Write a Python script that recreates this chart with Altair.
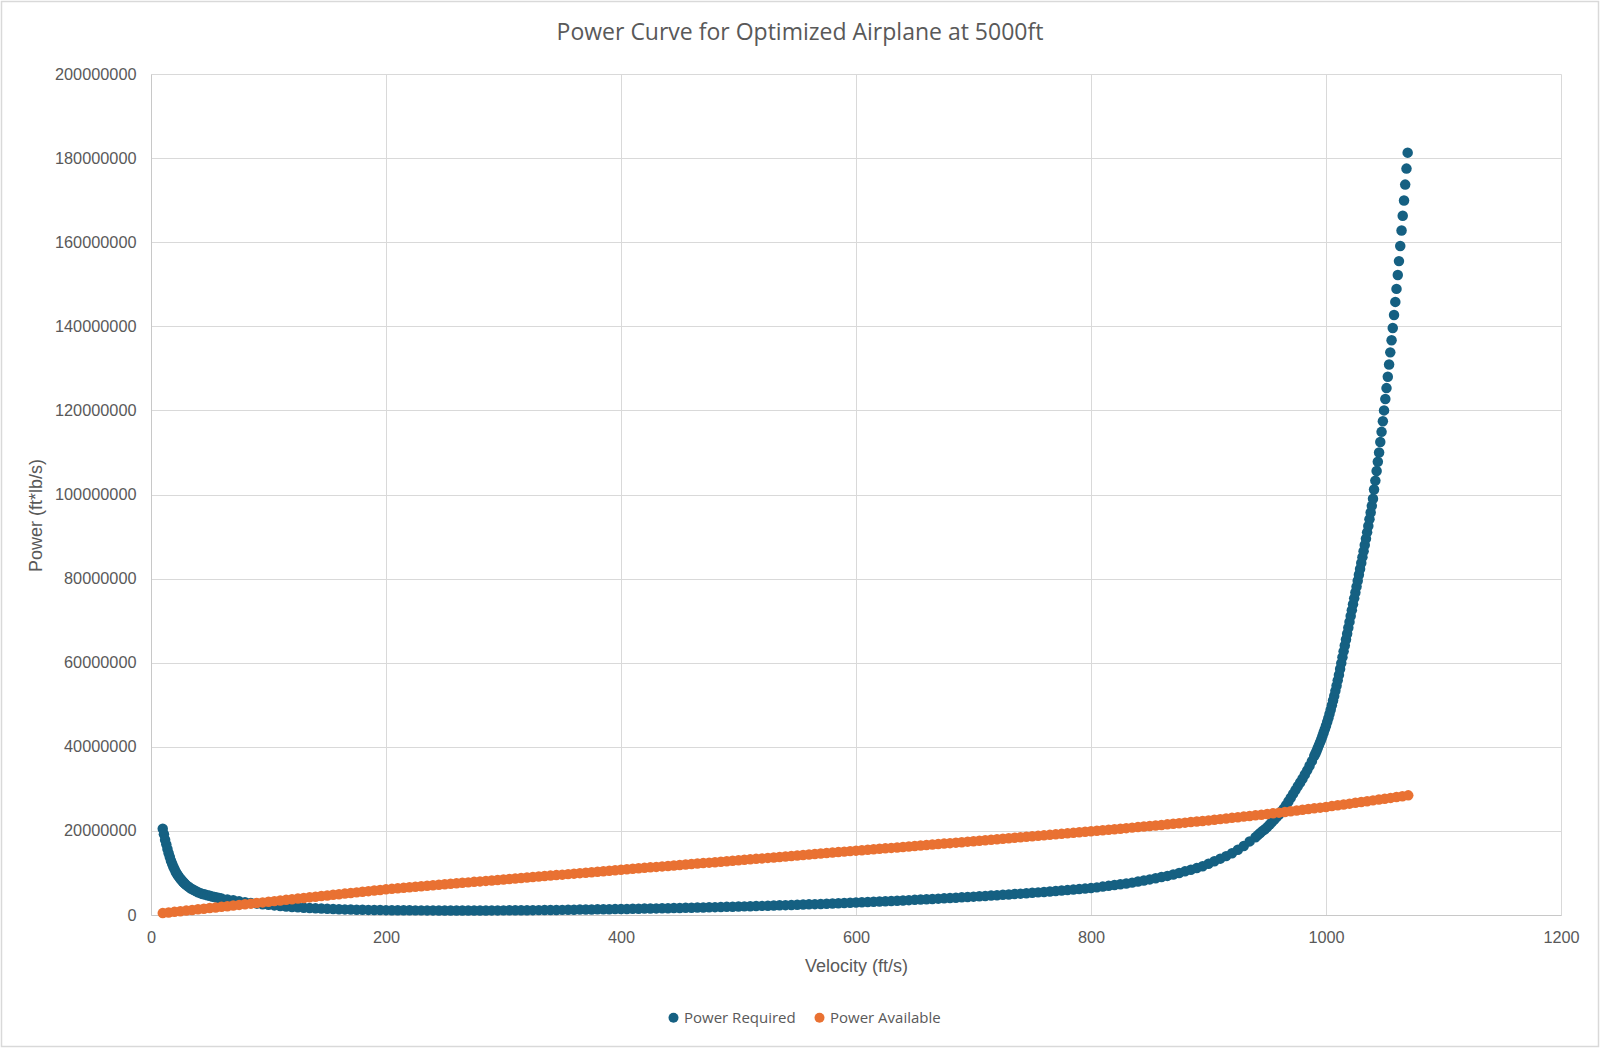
import altair as alt
import pandas as pd

TITLE = "Power Curve for Optimized Airplane at 5000ft"
X_TITLE = "Velocity (ft/s)"
Y_TITLE = "Power (ft*lb/s)"
SERIES = ["Power Required", "Power Available"]
COLORS = ["#156082", "#E97132"]
X_TICKS = [0, 200, 400, 600, 800, 1000, 1200]
Y_TICKS = [0, 20000000, 40000000, 60000000, 80000000, 100000000,
           120000000, 140000000, 160000000, 180000000, 200000000]

# (velocity ft/s, power in millions of ft*lb/s)
power_required = [
    (10, 20.5), (11, 19.2), (12, 17.9), (13, 16.8), (14, 15.7), (15, 14.7), (16, 13.8), (17, 12.9),
    (18, 12.2), (19, 11.5), (20, 10.9), (21, 10.3), (22, 9.8), (23, 9.4), (24, 9.0), (25, 8.6),
    (26, 8.3), (27, 7.95), (28, 7.65), (29, 7.4), (30, 7.1),
    (32, 6.7), (34, 6.3), (36, 6.0), (38, 5.7), (40, 5.4), (42, 5.2), (44, 5.0), (46, 4.85),
    (48, 4.7), (50, 4.55), (52, 4.4), (54, 4.28), (56, 4.16), (58, 4.05), (60, 3.95),
    (65, 3.7), (70, 3.5), (75, 3.25), (80, 3.05), (85, 2.85), (90, 2.7), (95, 2.55), (100, 2.42),
    (105, 2.28), (110, 2.15), (115, 2.03), (120, 1.92), (125, 1.82), (130, 1.73), (135, 1.65),
    (140, 1.58), (145, 1.52), (150, 1.46), (155, 1.41), (160, 1.37), (165, 1.33), (170, 1.29),
    (175, 1.26), (180, 1.23), (185, 1.21), (190, 1.19), (195, 1.17), (200, 1.15),
    (205, 1.14), (210, 1.13), (215, 1.12), (220, 1.11), (225, 1.10), (230, 1.10), (235, 1.09),
    (240, 1.09), (245, 1.08), (250, 1.08), (255, 1.08), (260, 1.08), (265, 1.08), (270, 1.08),
    (275, 1.08), (280, 1.08), (285, 1.08), (290, 1.09), (295, 1.09), (300, 1.10),
    (305, 1.11), (310, 1.12), (315, 1.13), (320, 1.14), (325, 1.15), (330, 1.16), (335, 1.17),
    (340, 1.19), (345, 1.20), (350, 1.22), (355, 1.24), (360, 1.26), (365, 1.28), (370, 1.30),
    (375, 1.32), (380, 1.34), (385, 1.36), (390, 1.38), (395, 1.40), (400, 1.42),
    (405, 1.44), (410, 1.47), (415, 1.49), (420, 1.52), (425, 1.54), (430, 1.57), (435, 1.59),
    (440, 1.62), (445, 1.65), (450, 1.68), (455, 1.71), (460, 1.74), (465, 1.77), (470, 1.80),
    (475, 1.83), (480, 1.87), (485, 1.90), (490, 1.94), (495, 1.97), (500, 2.01),
    (505, 2.05), (510, 2.09), (515, 2.13), (520, 2.17), (525, 2.21), (530, 2.25), (535, 2.30),
    (540, 2.34), (545, 2.39), (550, 2.43), (555, 2.48), (560, 2.53), (565, 2.58), (570, 2.63),
    (575, 2.68), (580, 2.74), (585, 2.79), (590, 2.85), (595, 2.90), (600, 2.96),
    (605, 3.02), (610, 3.08), (615, 3.14), (620, 3.20), (625, 3.26), (630, 3.33), (635, 3.39),
    (640, 3.46), (645, 3.53), (650, 3.60), (655, 3.67), (660, 3.74), (665, 3.81), (670, 3.89),
    (675, 3.96), (680, 4.04), (685, 4.12), (690, 4.20), (695, 4.28), (700, 4.36),
    (705, 4.45), (710, 4.53), (715, 4.62), (720, 4.71), (725, 4.80), (730, 4.89), (735, 4.99),
    (740, 5.08), (745, 5.18), (750, 5.28), (755, 5.38), (760, 5.48), (765, 5.59), (770, 5.70),
    (775, 5.81), (780, 5.92), (785, 6.04), (790, 6.16), (795, 6.28), (800, 6.40),
    (805, 6.57), (810, 6.75), (815, 6.93), (820, 7.12), (825, 7.30), (830, 7.48), (835, 7.70),
    (840, 7.95), (845, 8.20), (850, 8.47), (855, 8.74), (860, 9.02), (865, 9.30), (870, 9.65),
    (875, 10.0), (880, 10.38), (885, 10.76), (890, 11.15), (895, 11.6), (900, 12.2),
    (905, 12.8), (910, 13.4), (915, 14.0), (920, 14.7), (925, 15.5), (930, 16.4), (935, 17.5),
    (940, 18.5),
    (942, 19.0), (944, 19.5), (946, 20.0), (948, 20.4), (950, 20.9), (952, 21.5), (954, 22.1),
    (956, 22.7), (958, 23.3), (960, 23.9), (962, 24.6), (964, 25.3), (966, 26.1), (968, 27.0),
    (970, 27.9), (972, 28.8), (974, 29.7), (976, 30.6), (978, 31.5), (980, 32.4), (982, 33.4),
    (984, 34.4), (986, 35.5), (988, 36.6),
    (990, 37.8), (991, 38.4), (992, 39.0), (993, 39.7), (994, 40.4), (995, 41.1), (996, 41.8),
    (997, 42.6), (998, 43.4), (999, 44.2), (1000, 45.0), (1001, 45.9), (1002, 46.8), (1003, 47.8),
    (1004, 48.8), (1005, 49.9), (1006, 51.0), (1007, 52.1), (1008, 53.3), (1009, 54.5),
    (1010, 55.8), (1011, 57.1), (1012, 58.5), (1013, 59.9), (1014, 61.3), (1015, 62.7),
    (1016, 64.1), (1017, 65.5), (1018, 66.9), (1019, 68.3), (1020, 69.7), (1021, 71.1),
    (1022, 72.5), (1023, 73.9), (1024, 75.3), (1025, 76.7), (1026, 78.1), (1027, 79.5),
    (1028, 80.9), (1029, 82.3), (1030, 83.7), (1031, 85.1), (1032, 86.5), (1033, 88.0),
    (1034, 89.5), (1035, 91.0), (1036, 92.5), (1037, 94.1), (1038, 95.7), (1039, 97.3),
    (1040, 99.0),
    (1040.9, 101.2), (1042.0, 103.3), (1043.1, 105.6), (1044.1, 107.8), (1045.2, 110.0),
    (1046.2, 112.5), (1047.3, 114.9), (1048.4, 117.4), (1049.4, 120.0), (1050.5, 122.7),
    (1051.5, 125.3), (1052.6, 128.0), (1053.7, 130.9), (1054.7, 133.8), (1055.8, 136.7),
    (1056.8, 139.6), (1057.9, 142.7), (1059.0, 145.8), (1060.0, 148.9), (1061.1, 152.2),
    (1062.1, 155.5), (1063.2, 159.1), (1064.3, 162.8), (1065.3, 166.3), (1066.4, 169.9),
    (1067.4, 173.7), (1068.5, 177.5), (1069.5, 181.3),
]

power_available = [
    (10, 0.45), (15, 0.60), (20, 0.75), (25, 0.90), (30, 1.05), (35, 1.20), (40, 1.35), (45, 1.50),
    (50, 1.65), (55, 1.80), (60, 1.95), (65, 2.10), (70, 2.25), (75, 2.40), (80, 2.55), (85, 2.70),
    (90, 2.85), (95, 3.00), (100, 3.15), (105, 3.30), (110, 3.45), (115, 3.60), (120, 3.75),
    (125, 3.90), (130, 4.05), (135, 4.20), (140, 4.35), (145, 4.50), (150, 4.65), (155, 4.80),
    (160, 4.94), (165, 5.09), (170, 5.23), (175, 5.38), (180, 5.52), (185, 5.67), (190, 5.81),
    (195, 5.96), (200, 6.10), (205, 6.22), (210, 6.34), (215, 6.46), (220, 6.58), (225, 6.70),
    (230, 6.82), (235, 6.94), (240, 7.06), (245, 7.18), (250, 7.30), (255, 7.42), (260, 7.53),
    (265, 7.65), (270, 7.76), (275, 7.88), (280, 7.99), (285, 8.11), (290, 8.22), (295, 8.34),
    (300, 8.45), (305, 8.57), (310, 8.68), (315, 8.80), (320, 8.91), (325, 9.03), (330, 9.14),
    (335, 9.26), (340, 9.37), (345, 9.49), (350, 9.60), (355, 9.72), (360, 9.83), (365, 9.95),
    (370, 10.06), (375, 10.18), (380, 10.29), (385, 10.41), (390, 10.52), (395, 10.64),
    (400, 10.75), (405, 10.87), (410, 10.98), (415, 11.10), (420, 11.21), (425, 11.33),
    (430, 11.44), (435, 11.56), (440, 11.67), (445, 11.79), (450, 11.90), (455, 12.01),
    (460, 12.12), (465, 12.23), (470, 12.34), (475, 12.45), (480, 12.56), (485, 12.67),
    (490, 12.78), (495, 12.89), (500, 13.00), (505, 13.12), (510, 13.23), (515, 13.35),
    (520, 13.46), (525, 13.58), (530, 13.69), (535, 13.81), (540, 13.92), (545, 14.04),
    (550, 14.15), (555, 14.27), (560, 14.38), (565, 14.50), (570, 14.61), (575, 14.73),
    (580, 14.84), (585, 14.96), (590, 15.07), (595, 15.19), (600, 15.30), (605, 15.41),
    (610, 15.52), (615, 15.63), (620, 15.74), (625, 15.85), (630, 15.96), (635, 16.07),
    (640, 16.18), (645, 16.29), (650, 16.40), (655, 16.52), (660, 16.63), (665, 16.75),
    (670, 16.86), (675, 16.98), (680, 17.09), (685, 17.21), (690, 17.32), (695, 17.44),
    (700, 17.55), (705, 17.67), (710, 17.78), (715, 17.90), (720, 18.01), (725, 18.13),
    (730, 18.24), (735, 18.36), (740, 18.47), (745, 18.59), (750, 18.70), (755, 18.82),
    (760, 18.94), (765, 19.06), (770, 19.18), (775, 19.30), (780, 19.42), (785, 19.54),
    (790, 19.66), (795, 19.78), (800, 19.90), (805, 20.03), (810, 20.15), (815, 20.28),
    (820, 20.40), (825, 20.53), (830, 20.65), (835, 20.78), (840, 20.90), (845, 21.03),
    (850, 21.15), (855, 21.29), (860, 21.42), (865, 21.56), (870, 21.69), (875, 21.83),
    (880, 21.96), (885, 22.10), (890, 22.23), (895, 22.37), (900, 22.50), (905, 22.65),
    (910, 22.80), (915, 22.95), (920, 23.10), (925, 23.25), (930, 23.40), (935, 23.55),
    (940, 23.70), (945, 23.85), (950, 24.00), (955, 24.17), (960, 24.34), (965, 24.51),
    (970, 24.68), (975, 24.85), (980, 25.02), (985, 25.19), (990, 25.36), (995, 25.53),
    (1000, 25.70), (1005, 25.90), (1010, 26.09), (1015, 26.29), (1020, 26.48), (1025, 26.68),
    (1030, 26.87), (1035, 27.07), (1040, 27.26), (1045, 27.46), (1050, 27.65), (1055, 27.85),
    (1060, 28.05), (1065, 28.25), (1070, 28.45),
]

rows = []
for v, p in power_required:
    rows.append({"V": v, "P": p * 1e6, "series": SERIES[0]})
for v, p in power_available:
    rows.append({"V": v, "P": p * 1e6, "series": SERIES[1]})
df = pd.DataFrame(rows)

TEXT = "#595959"
GRID = "#d9d9d9"

points = alt.Chart(df).mark_circle(size=110, opacity=1).encode(
    x=alt.X("V:Q",
            scale=alt.Scale(domain=[0, 1200], nice=False, zero=True),
            axis=alt.Axis(values=X_TICKS, format="d", title=X_TITLE, grid=True,
                          ticks=False, labelPadding=14, labelFlush=False, labelOverlap=False,
                          titleY=51, titleBaseline="middle")),
    y=alt.Y("P:Q",
            scale=alt.Scale(domain=[0, 200000000], nice=False),
            axis=alt.Axis(values=Y_TICKS, format="d", title=Y_TITLE, grid=True,
                          ticks=False, labelPadding=15, labelFlush=False, labelOverlap=False,
                          titleX=-115, titleY=441,
                          titleBaseline="middle", titleAlign="center")),
    color=alt.Color("series:N",
                    scale=alt.Scale(domain=SERIES, range=COLORS),
                    legend=alt.Legend(title=None, orient="none", legendX=515, legendY=936,
                                      direction="horizontal", symbolType="circle",
                                      symbolSize=100, symbolStrokeWidth=0, labelFontSize=15,
                                      labelFont="Open Sans", labelColor=TEXT, labelOffset=3,
                                      columnPadding=16, padding=0)),
)

border = alt.Chart(alt.Data(values=[{}])).mark_rect(
    fill=None, fillOpacity=0, stroke="#d9d9d9", strokeWidth=1.5
).encode(
    x=alt.value(-149.5), x2=alt.value(1447.5), y=alt.value(-72.5), y2=alt.value(972.5)
)

chart = alt.layer(points, border).properties(
    width=1410,
    height=841,
    background="white",
    autosize=alt.AutoSizeParams(type="none"),
    padding={"left": 151, "top": 74, "right": 39, "bottom": 133},
    title=alt.TitleParams(TITLE, anchor="middle", dx=-56, offset=-44, fontSize=23,
                          font="Open Sans", fontWeight="normal", color=TEXT),
).configure_view(stroke=None).configure_axis(
    gridColor=GRID, gridWidth=1, domainColor="#c8c8c8", domainWidth=1,
    labelFont="Liberation Sans", labelFontSize=16.3, labelColor=TEXT,
    titleFont="Liberation Sans", titleFontSize=18, titleColor=TEXT, titleFontWeight="normal",
)

chart.save("out.html", embed_options={"renderer": "svg", "actions": False})
